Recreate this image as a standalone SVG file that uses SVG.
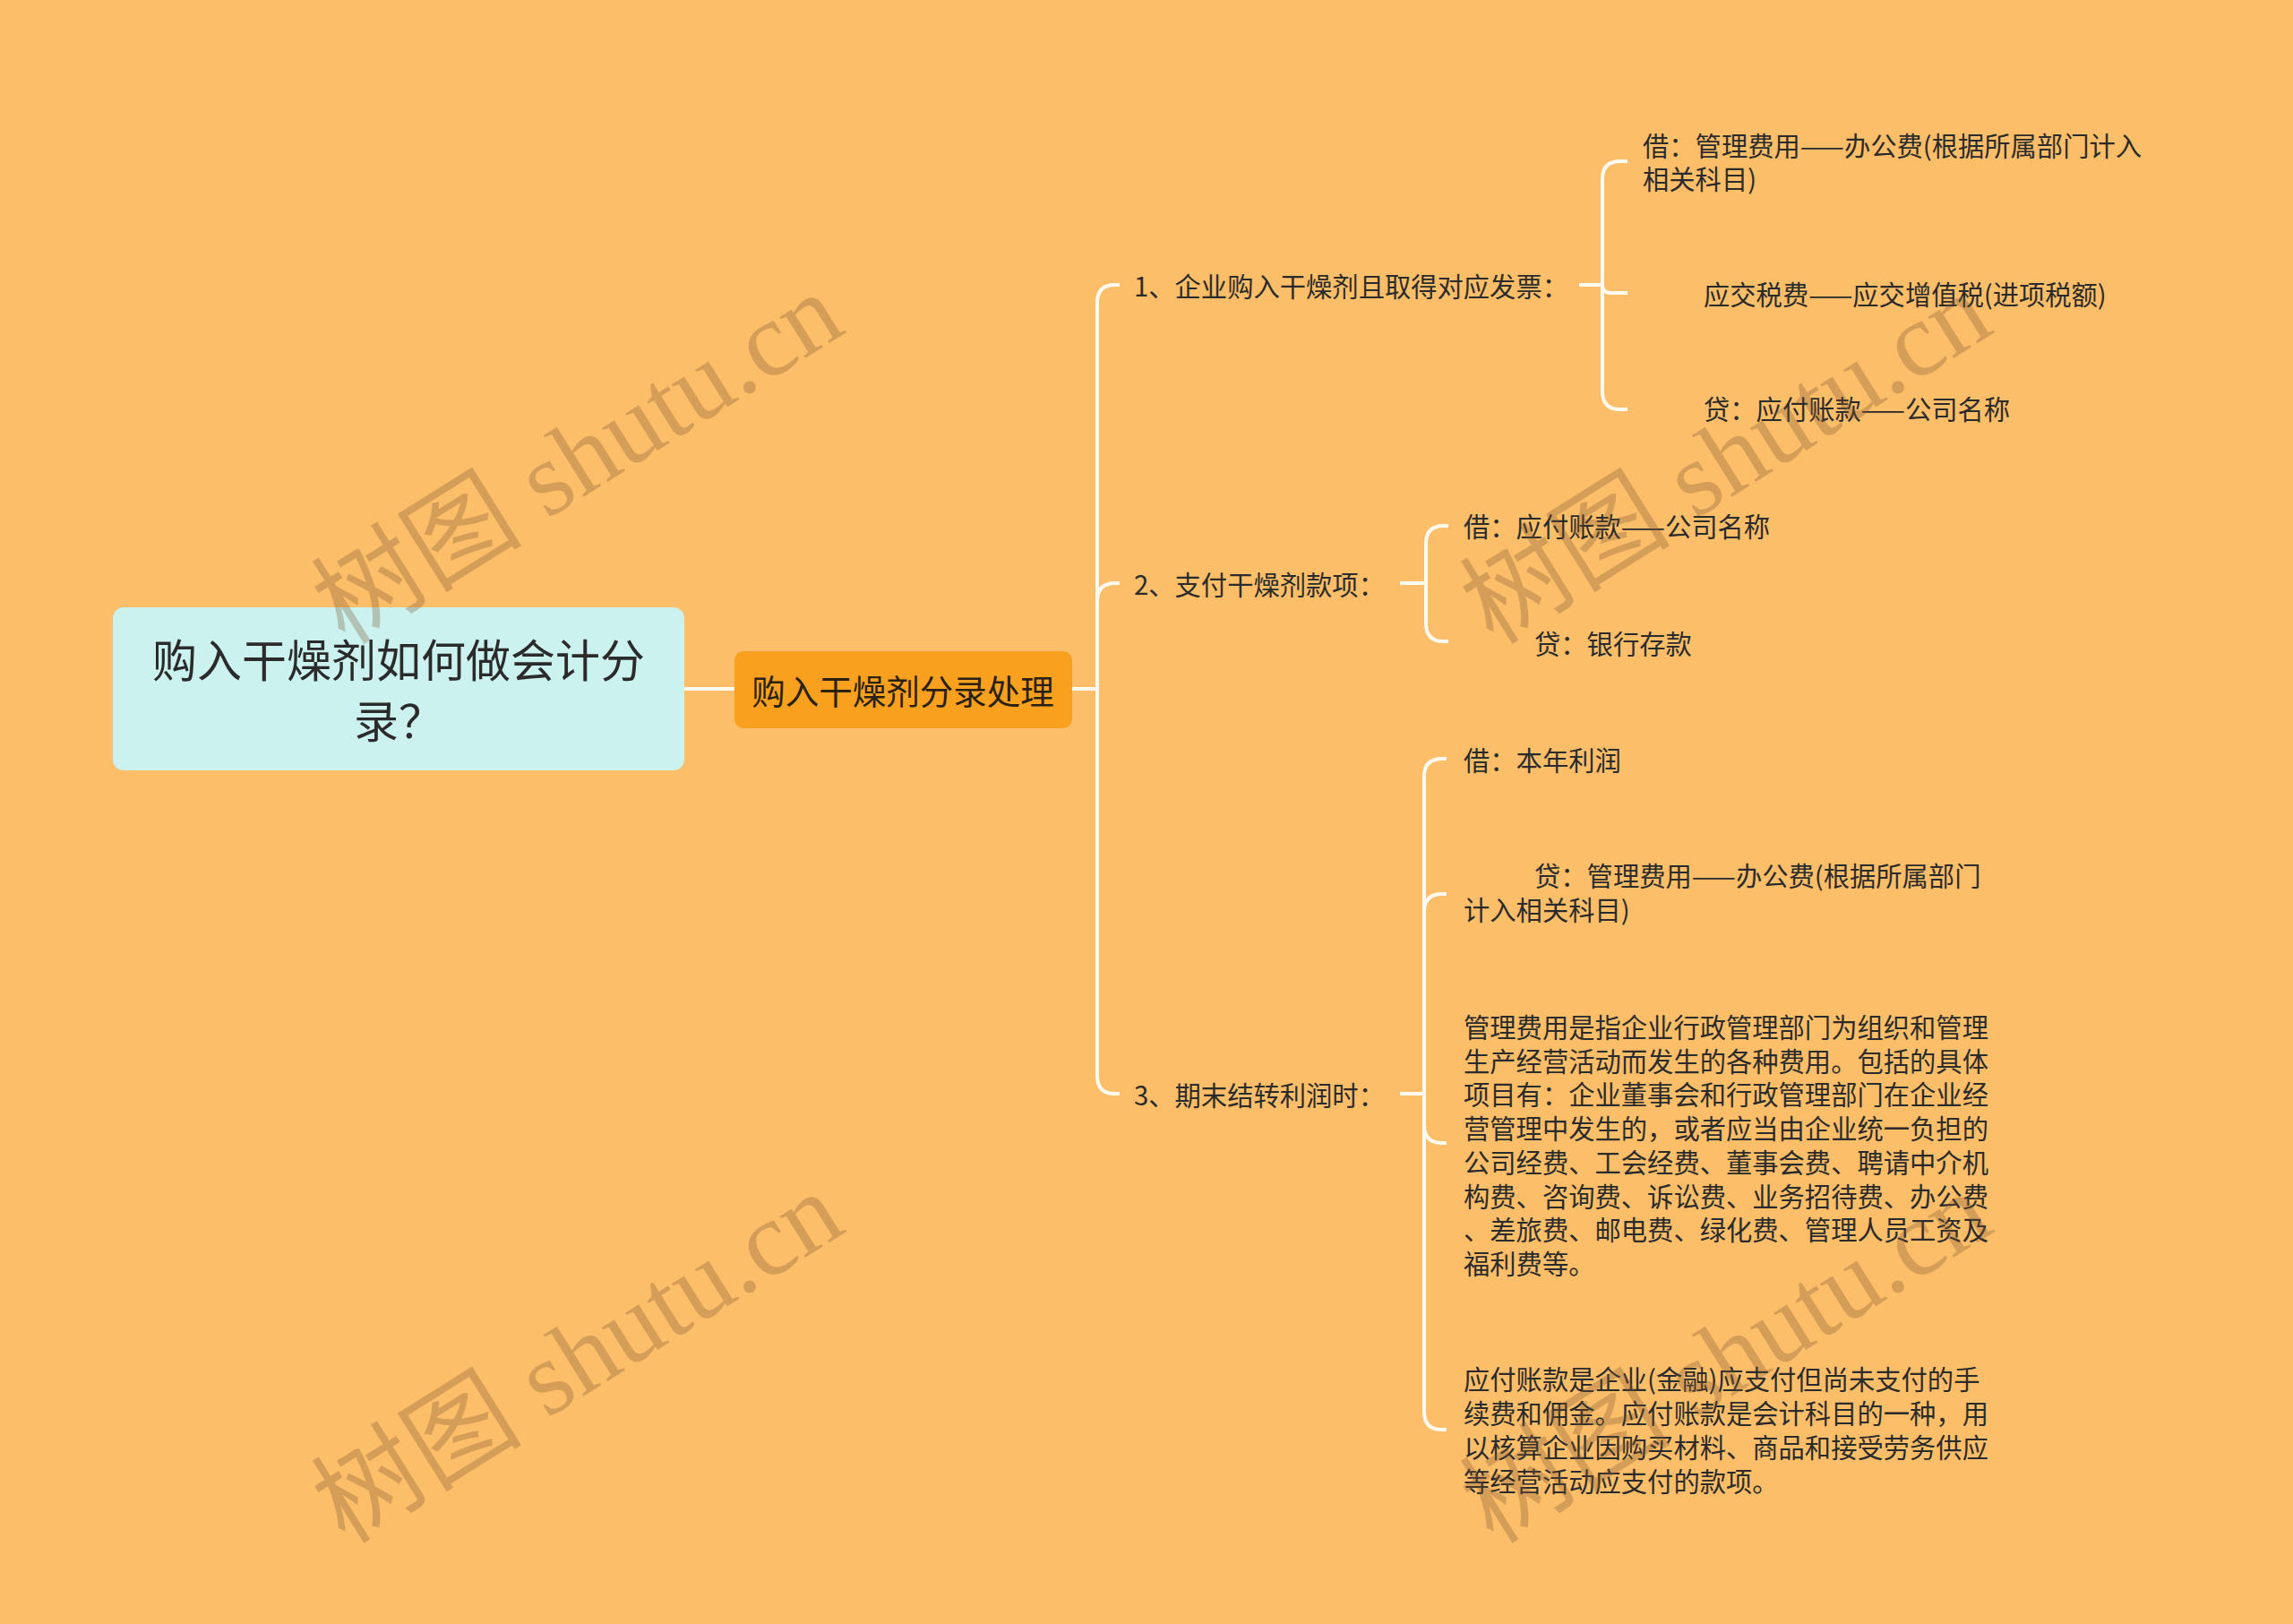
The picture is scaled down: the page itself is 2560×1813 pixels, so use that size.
<svg xmlns="http://www.w3.org/2000/svg" width="2560" height="1813" viewBox="0 0 2560 1813">
<style>
.t{font-family:"Noto Sans CJK SC","Noto Sans",sans-serif;fill:#2b2b2b;dominant-baseline:central}
.s{font-size:29.3px}
.root{font-size:50px;text-anchor:middle}
.main{font-size:37.5px;text-anchor:middle;fill:#2b2112}
.c{fill:none;stroke:#FFFAF0;stroke-width:4}
.wm{font-family:"Liberation Serif","Noto Sans CJK SC",serif;font-size:118px;fill:#7A5632;fill-opacity:0.3;text-anchor:middle;dominant-baseline:central}
</style>
<rect width="2560" height="1813" fill="#FDBE69"/>
<g id="connectors" class="c">
<path d="M764,769 H820"/>
<path d="M1197,769 H1225"/>
<path d="M1225,769 V338 Q1225,318 1245,318 H1250"/>
<path d="M1225,769 V671 Q1225,651 1245,651 H1250"/>
<path d="M1225,769 V1201 Q1225,1221 1245,1221 H1250"/>
<path d="M1763,318 H1789"/>
<path d="M1789,318 V200 Q1789,180 1809,180 H1817"/>
<path d="M1789,318 Q1789,327 1798,327 H1817"/>
<path d="M1789,318 V437 Q1789,457 1809,457 H1817"/>
<path d="M1563,651 H1592"/>
<path d="M1592,651 V607 Q1592,587 1612,587 H1617"/>
<path d="M1592,651 V696 Q1592,716 1612,716 H1617"/>
<path d="M1563,1221 H1590"/>
<path d="M1590,1221 V867 Q1590,847 1610,847 H1615"/>
<path d="M1590,1221 V1018 Q1590,998 1610,998 H1615"/>
<path d="M1590,1221 V1256 Q1590,1276 1610,1276 H1615"/>
<path d="M1590,1221 V1576 Q1590,1596 1610,1596 H1615"/>
</g>
<g id="root">
<rect x="126" y="678" width="638" height="182" rx="12" fill="#CBF2EE"/>
<text class="t root" x="445" y="734">购入干燥剂如何做会计分</text>
<text class="t root" x="445" y="802">录？</text>
</g>
<g id="main">
<rect x="820" y="727" width="377" height="86" rx="10" fill="#F9A11E"/>
<text class="t main" x="1008" y="769">购入干燥剂分录处理</text>
</g>
<g id="n1"><text class="t s" x="1266" y="318">1、企业购入干燥剂且取得对应发票：</text></g>
<g id="n2"><text class="t s" x="1266" y="651">2、支付干燥剂款项：</text></g>
<g id="n3"><text class="t s" x="1266" y="1221">3、期末结转利润时：</text></g>
<g id="n1a"><text class="t s" x="1834" y="161">借：管理费用——办公费(根据所属部门计入</text><text class="t s" x="1834" y="198">相关科目)</text></g>
<g id="n1b"><text class="t s" x="1902" y="327">应交税费——应交增值税(进项税额)</text></g>
<g id="n1c"><text class="t s" x="1902" y="455">贷：应付账款——公司名称</text></g>
<g id="n2a"><text class="t s" x="1634" y="586">借：应付账款——公司名称</text></g>
<g id="n2b"><text class="t s" x="1713" y="717">贷：银行存款</text></g>
<g id="n3a"><text class="t s" x="1634" y="847">借：本年利润</text></g>
<g id="n3b"><text class="t s" x="1713" y="976">贷：管理费用——办公费(根据所属部门</text><text class="t s" x="1634" y="1014">计入相关科目)</text></g>
<g id="n3c">
<text class="t s" x="1634" y="1145">管理费用是指企业行政管理部门为组织和管理</text>
<text class="t s" x="1634" y="1182.7">生产经营活动而发生的各种费用。包括的具体</text>
<text class="t s" x="1634" y="1220.4">项目有：企业董事会和行政管理部门在企业经</text>
<text class="t s" x="1634" y="1258.1">营管理中发生的，或者应当由企业统一负担的</text>
<text class="t s" x="1634" y="1295.8">公司经费、工会经费、董事会费、聘请中介机</text>
<text class="t s" x="1634" y="1333.5">构费、咨询费、诉讼费、业务招待费、办公费</text>
<text class="t s" x="1634" y="1371.2">、差旅费、邮电费、绿化费、管理人员工资及</text>
<text class="t s" x="1634" y="1408.9">福利费等。</text>
</g>
<g id="n3d">
<text class="t s" x="1634" y="1538">应付账款是企业(金融)应支付但尚未支付的手</text>
<text class="t s" x="1634" y="1576">续费和佣金。应付账款是会计科目的一种，用</text>
<text class="t s" x="1634" y="1614">以核算企业因购买材料、商品和接受劳务供应</text>
<text class="t s" x="1634" y="1652">等经营活动应支付的款项。</text>
</g>
<g id="watermarks">
<text class="wm" transform="translate(645,512) rotate(-32)">树图 shutu.cn</text>
<text class="wm" transform="translate(1927,512) rotate(-32)">树图 shutu.cn</text>
<text class="wm" transform="translate(645,1516) rotate(-32)">树图 shutu.cn</text>
<text class="wm" transform="translate(1927,1516) rotate(-32)">树图 shutu.cn</text>
</g>
</svg>
